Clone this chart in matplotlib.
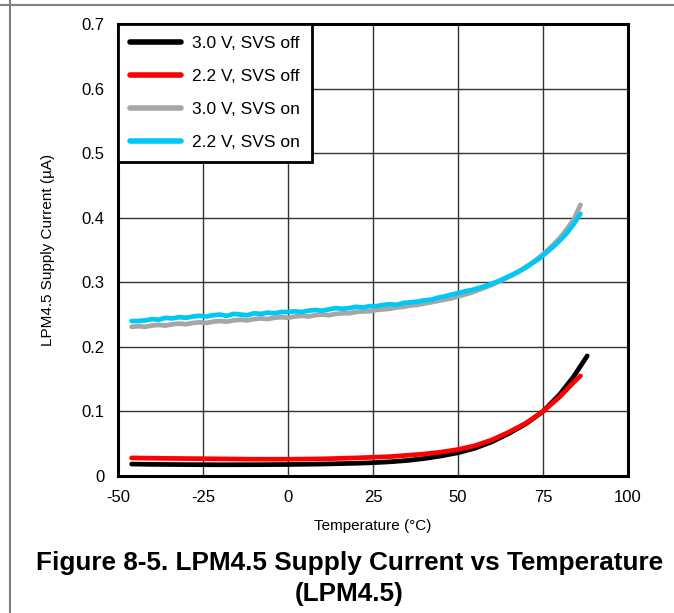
import numpy as np
import matplotlib
matplotlib.use("Agg")
import matplotlib.pyplot as plt
import matplotlib.ticker as ticker
from matplotlib.lines import Line2D

plt.rcParams['font.family'] = ['Liberation Sans', 'DejaVu Sans']
plt.rcParams['axes.unicode_minus'] = False

# data
temp_on = list(range(-46, 87, 2))
cur_22_on = [0.240, 0.240, 0.241, 0.243, 0.242, 0.245, 0.244, 0.246, 0.245, 0.247,
             0.248, 0.247, 0.249, 0.250, 0.248, 0.251, 0.250, 0.249, 0.252, 0.251,
             0.253, 0.252, 0.254, 0.254, 0.255, 0.254, 0.256, 0.257, 0.256, 0.258,
             0.260, 0.259, 0.260, 0.262, 0.261, 0.263, 0.263, 0.265, 0.266, 0.265,
             0.268, 0.269, 0.270, 0.272, 0.273, 0.276, 0.278, 0.281, 0.283, 0.286,
             0.288, 0.291, 0.294, 0.298, 0.302, 0.307, 0.312, 0.317, 0.323, 0.330,
             0.337, 0.346, 0.355, 0.365, 0.376, 0.390, 0.406]
cur_30_on = [0.231, 0.232, 0.231, 0.233, 0.234, 0.233, 0.235, 0.236, 0.235, 0.237,
             0.238, 0.237, 0.239, 0.240, 0.239, 0.241, 0.242, 0.241, 0.243, 0.244,
             0.243, 0.245, 0.246, 0.245, 0.247, 0.248, 0.247, 0.249, 0.250, 0.249,
             0.251, 0.252, 0.252, 0.254, 0.255, 0.255, 0.257, 0.258, 0.259, 0.261,
             0.262, 0.264, 0.265, 0.267, 0.269, 0.271, 0.273, 0.275, 0.278, 0.281,
             0.284, 0.288, 0.292, 0.296, 0.301, 0.306, 0.311, 0.317, 0.324, 0.331,
             0.339, 0.348, 0.358, 0.369, 0.382, 0.397, 0.420]

temp_30_off = [-46, -40, -30, -20, -10, 0, 10, 20, 25, 30, 35, 40, 45, 50, 55, 60,
               65, 70, 75, 80, 84, 88]
cur_30_off = [0.0185, 0.0180, 0.0176, 0.0174, 0.0175, 0.0178, 0.0185, 0.0197, 0.0206,
              0.022, 0.024, 0.027, 0.031, 0.036, 0.043, 0.053, 0.066, 0.081, 0.100,
              0.127, 0.154, 0.186]
temp_22_off = [-46, -40, -30, -20, -10, 0, 10, 20, 25, 30, 35, 40, 45, 50, 55, 60,
               65, 70, 75, 80, 84, 86]
cur_22_off = [0.028, 0.0275, 0.027, 0.0265, 0.026, 0.026, 0.0265, 0.028, 0.029, 0.030,
              0.032, 0.034, 0.037, 0.041, 0.047, 0.056, 0.068, 0.082, 0.100, 0.123,
              0.145, 0.155]

fig = plt.figure(figsize=(6.74, 6.13), dpi=100)
ax = fig.add_axes([0.1751, 0.2235, 0.7567, 0.7374])

lw = 3.4
ax.plot(temp_30_off, cur_30_off, color='black', lw=lw, solid_capstyle='round', label="3.0 V, SVS off")
ax.plot(temp_22_off, cur_22_off, color='#ff0000', lw=lw, solid_capstyle='round', label="2.2 V, SVS off")
ax.plot(temp_on, cur_30_on, color='#a6a6a6', lw=lw, solid_capstyle='round', label="3.0 V, SVS on")
ax.plot(temp_on, cur_22_on, color='#00c8f5', lw=lw, solid_capstyle='round', label="2.2 V, SVS on")

ax.set_xlim(-50, 100)
ax.set_ylim(0, 0.7)
ax.xaxis.set_major_locator(ticker.MultipleLocator(25))
ax.yaxis.set_major_locator(ticker.MultipleLocator(0.1))
ax.yaxis.set_major_formatter(ticker.FuncFormatter(lambda v, p: "0" if abs(v) < 1e-9 else "%.1f" % v))
ax.tick_params(length=0, labelsize=12, pad=10)
ax.grid(color='#333333', lw=1.0)
ax.set_axisbelow(True)
for s in ax.spines.values():
    s.set_linewidth(2.2)
    s.set_color('black')

ax.set_xlabel("Temperature (°C)", fontsize=11, labelpad=10)
ax.set_ylabel("LPM4.5 Supply Current (µA)", fontsize=11, labelpad=19)

leg = ax.legend(loc='upper left', bbox_to_anchor=(0, 1), borderaxespad=0, fancybox=False,
                edgecolor='black', framealpha=1, fontsize=12.5, handlelength=2.9,
                handletextpad=0.65, labelspacing=1.02, borderpad=0.7)
leg.get_frame().set_linewidth(2.0)
for h in leg.get_lines():
    h.set_linewidth(4)

fig.text(0.518, 0.056, "Figure 8-5. LPM4.5 Supply Current vs Temperature\n(LPM4.5)",
         ha='center', va='center', fontsize=18.8, fontweight='bold', linespacing=1.4,
         family=['Liberation Sans Narrow', 'Liberation Sans'])

# page frame lines
fig.add_artist(Line2D([0, 1], [1 - 5 / 613, 1 - 5 / 613], color='#808080', lw=1.5))
fig.add_artist(Line2D([10 / 674, 10 / 674], [0, 1], color='#808080', lw=1.5))

fig.savefig("out.png", dpi=100)
